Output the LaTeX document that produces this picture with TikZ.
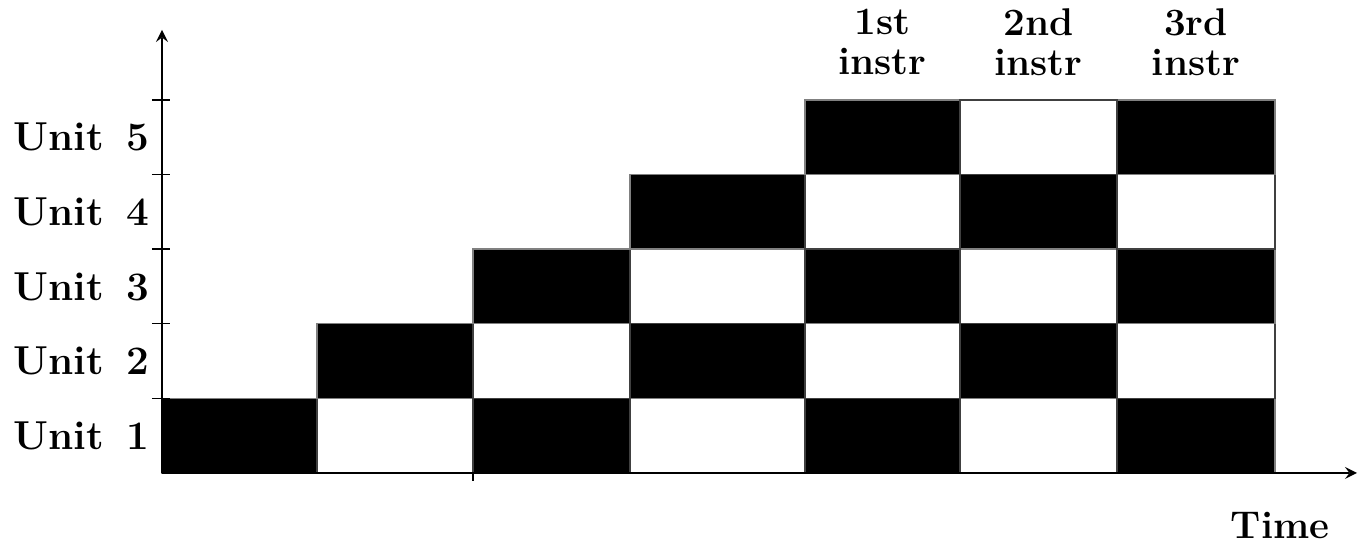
\documentclass[tikz,border=0pt]{standalone}
\usepackage{tikz}

\begin{document}
\begin{tikzpicture}[
    >=stealth,
    every node/.style={font=\fontsize{11}{11.5}\selectfont\bfseries},
    unitlbl/.style={anchor=east, inner sep=0pt, font=\fontsize{11.5}{12}\selectfont\bfseries},
    busy/.style={fill=black, draw=gray, line width=0.4pt},
    idle/.style={fill=white, draw=black!75, line width=0.4pt},
    axis/.style={->, line width=0.5pt},
  ]
    \useasboundingbox (-1.62,-0.71) rectangle (11.98,4.73);

    % Unit 1
    \path[busy] (0,0) rectangle (1.55,.746) (3.11,0) rectangle (4.68,.746)
                (6.43,0) rectangle (7.98,.746) (9.55,0) rectangle (11.13,.746);
    \path[idle] (1.55,0) rectangle (3.11,.746) (4.68,0) rectangle (6.43,.746)
                (7.98,0) rectangle (9.55,.746);

    % Unit 2
    \path[busy] (1.55,.746) rectangle (3.11,1.492) (4.68,.746) rectangle (6.43,1.492)
                (7.98,.746) rectangle (9.55,1.492);
    \path[idle] (3.11,.746) rectangle (4.68,1.492) (6.43,.746) rectangle (7.98,1.492)
                (9.55,.746) rectangle (11.13,1.492);

    % Unit 3
    \path[busy] (3.11,1.492) rectangle (4.68,2.238) (6.43,1.492) rectangle (7.98,2.238)
                (9.55,1.492) rectangle (11.13,2.238);
    \path[idle] (4.68,1.492) rectangle (6.43,2.238) (7.98,1.492) rectangle (9.55,2.238);

    % Unit 4
    \path[busy] (4.68,2.238) rectangle (6.43,2.984) (7.98,2.238) rectangle (9.55,2.984);
    \path[idle] (6.43,2.238) rectangle (7.98,2.984) (9.55,2.238) rectangle (11.13,2.984);

    % Unit 5
    \path[busy] (6.43,2.984) rectangle (7.98,3.73) (9.55,2.984) rectangle (11.13,3.73);
    \path[idle] (7.98,2.984) rectangle (9.55,3.73);

    % axes
    \coordinate (O)    at (0,0);
    \coordinate (ytop) at (0,4.43);
    \coordinate (xend) at (11.95,0);
    \draw[axis] (O) -- (ytop);
    \draw[axis] (O) -- (xend);
    \foreach \y in {.746,1.492,2.238,2.984,3.73}
      \draw[line width=0.4pt] (-0.1,\y) -- (0.08,\y);
    \draw[line width=0.4pt] (3.11,0) -- (3.11,-0.08);

    % unit labels
    \node[unitlbl] (u1) at (-0.12,0.373) {Unit\hspace{0.55em}1};
    \node[unitlbl] (u2) at (-0.12,1.119) {Unit\hspace{0.55em}2};
    \node[unitlbl] (u3) at (-0.12,1.865) {Unit\hspace{0.55em}3};
    \node[unitlbl] (u4) at (-0.12,2.611) {Unit\hspace{0.55em}4};
    \node[unitlbl] (u5) at (-0.12,3.357) {Unit\hspace{0.55em}5};

    % instruction labels
    \node[align=center] (i1) at (7.205,4.31) {1st\\instr};
    \node[align=center] (i2) at (8.765,4.31) {2nd\\instr};
    \node[align=center] (i3) at (10.34,4.31) {3rd\\instr};

    \node (time) at (11.18,-0.52) {Time};
  \end{tikzpicture}
\end{document}
